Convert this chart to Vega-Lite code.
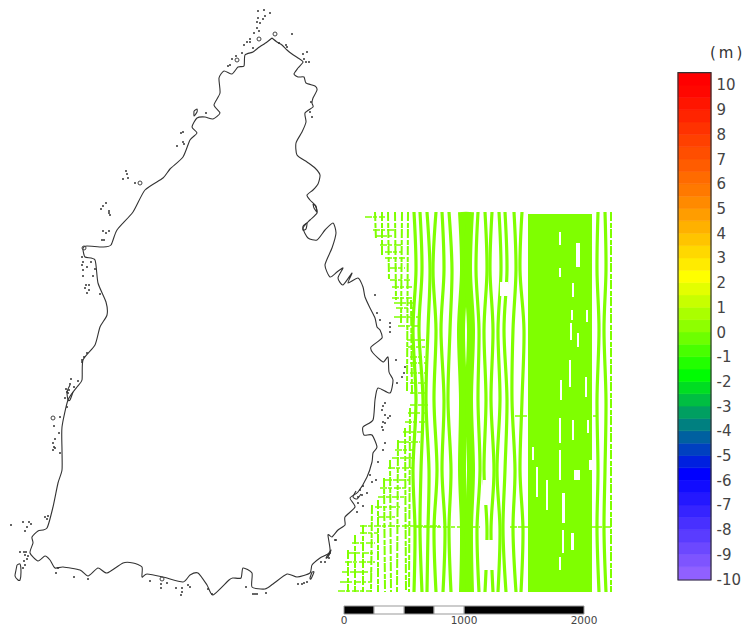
{"$schema":"https://vega.github.io/schema/vega-lite/v6.json","padding":0,"autosize":{"type":"pad"},"spacing":0,"bounds":"flush","background":"white","config":{"view":{"stroke":null},"font":"DejaVu Sans"},
"datasets":{
"coast":[
{"p":"a","i":1,"x":272,"y":38},{"p":"a","i":2,"x":277,"y":42},{"p":"a","i":3,"x":282,"y":45},{"p":"a","i":4,"x":287,"y":50},{"p":"a","i":5,"x":292,"y":54},{"p":"a","i":6,"x":298,"y":58},{"p":"a","i":7,"x":303,"y":62},{"p":"a","i":8,"x":298,"y":68},{"p":"a","i":9,"x":294,"y":74},{"p":"a","i":10,"x":298,"y":77},{"p":"a","i":11,"x":304,"y":77},{"p":"a","i":12,"x":306,"y":83},{"p":"a","i":13,"x":315,"y":86},{"p":"a","i":14,"x":317,"y":90},{"p":"a","i":15,"x":313,"y":98},{"p":"a","i":16,"x":312,"y":103},{"p":"a","i":17,"x":313,"y":107},{"p":"a","i":18,"x":305,"y":113},{"p":"a","i":19,"x":306,"y":122},{"p":"a","i":20,"x":302,"y":132},{"p":"a","i":21,"x":296,"y":143},{"p":"a","i":22,"x":297,"y":155},{"p":"a","i":23,"x":307,"y":162},{"p":"a","i":24,"x":315,"y":168},{"p":"a","i":25,"x":320,"y":175},{"p":"a","i":26,"x":318,"y":184},{"p":"a","i":27,"x":313,"y":190},{"p":"a","i":28,"x":307,"y":195},{"p":"a","i":29,"x":310,"y":200},{"p":"a","i":30,"x":315,"y":205},{"p":"a","i":31,"x":317,"y":213},{"p":"a","i":32,"x":310,"y":220},{"p":"a","i":33,"x":303,"y":228},{"p":"a","i":34,"x":308,"y":238},{"p":"a","i":35,"x":317,"y":240},{"p":"a","i":36,"x":325,"y":230},{"p":"a","i":37,"x":333,"y":223},{"p":"a","i":38,"x":336,"y":233},{"p":"a","i":39,"x":332,"y":248},{"p":"a","i":40,"x":325,"y":265},{"p":"a","i":41,"x":330,"y":277},{"p":"a","i":42,"x":337,"y":272},{"p":"a","i":43,"x":343,"y":268},{"p":"a","i":44,"x":338,"y":278},{"p":"a","i":45,"x":343,"y":285},{"p":"a","i":46,"x":352,"y":273},{"p":"a","i":47,"x":348,"y":283},{"p":"a","i":48,"x":358,"y":278},{"p":"a","i":49,"x":363,"y":287},{"p":"a","i":50,"x":365,"y":297},{"p":"a","i":51,"x":370,"y":308},{"p":"a","i":52,"x":375,"y":318},{"p":"a","i":53,"x":377,"y":327},{"p":"a","i":54,"x":380,"y":330},{"p":"a","i":55,"x":382,"y":338},{"p":"a","i":56,"x":371,"y":347},{"p":"a","i":57,"x":373,"y":353},{"p":"a","i":58,"x":383,"y":362},{"p":"a","i":59,"x":388,"y":357},{"p":"a","i":60,"x":389,"y":372},{"p":"a","i":61,"x":393,"y":380},{"p":"a","i":62,"x":390,"y":393},{"p":"a","i":63,"x":378,"y":388},{"p":"a","i":64,"x":375,"y":400},{"p":"a","i":65,"x":373,"y":420},{"p":"a","i":66,"x":363,"y":427},{"p":"a","i":67,"x":364,"y":435},{"p":"a","i":68,"x":372,"y":435},{"p":"a","i":69,"x":377,"y":447},{"p":"a","i":70,"x":373,"y":453},{"p":"a","i":71,"x":372,"y":462},{"p":"a","i":72,"x":367,"y":477},{"p":"a","i":73,"x":358,"y":492},{"p":"a","i":74,"x":350,"y":498},{"p":"a","i":75,"x":355,"y":507},{"p":"a","i":76,"x":345,"y":517},{"p":"a","i":77,"x":345,"y":525},{"p":"a","i":78,"x":338,"y":530},{"p":"a","i":79,"x":332,"y":537},{"p":"a","i":80,"x":328,"y":535},{"p":"a","i":81,"x":330,"y":552},{"p":"a","i":82,"x":320,"y":558},{"p":"a","i":83,"x":312,"y":565},{"p":"a","i":84,"x":310,"y":573},{"p":"a","i":85,"x":297,"y":577},{"p":"a","i":86,"x":287,"y":574},{"p":"a","i":87,"x":273,"y":584},{"p":"a","i":88,"x":265,"y":589},{"p":"a","i":89,"x":252,"y":587},{"p":"a","i":90,"x":252,"y":573},{"p":"a","i":91,"x":243,"y":568},{"p":"a","i":92,"x":241,"y":578},{"p":"a","i":93,"x":233,"y":578},{"p":"a","i":94,"x":229,"y":580},{"p":"a","i":95,"x":213,"y":595},{"p":"a","i":96,"x":207,"y":585},{"p":"a","i":97,"x":198,"y":573},{"p":"a","i":98,"x":190,"y":575},{"p":"a","i":99,"x":183,"y":582},{"p":"a","i":100,"x":163,"y":577},{"p":"a","i":101,"x":147,"y":574},{"p":"a","i":102,"x":142,"y":577},{"p":"a","i":103,"x":142,"y":567},{"p":"a","i":104,"x":133,"y":563},{"p":"a","i":105,"x":123,"y":563},{"p":"a","i":106,"x":107,"y":573},{"p":"a","i":107,"x":98,"y":568},{"p":"a","i":108,"x":88,"y":576},{"p":"a","i":109,"x":80,"y":570},{"p":"a","i":110,"x":63,"y":567},{"p":"a","i":111,"x":55,"y":568},{"p":"a","i":112,"x":50,"y":560},{"p":"a","i":113,"x":45,"y":556},{"p":"a","i":114,"x":38,"y":561},{"p":"a","i":115,"x":30,"y":553},{"p":"a","i":116,"x":33,"y":543},{"p":"a","i":117,"x":32,"y":537},{"p":"a","i":118,"x":38,"y":531},{"p":"a","i":119,"x":47,"y":528},{"p":"a","i":120,"x":53,"y":507},{"p":"a","i":121,"x":58,"y":483},{"p":"a","i":122,"x":62,"y":470},{"p":"a","i":123,"x":62,"y":450},{"p":"a","i":124,"x":62,"y":427},{"p":"a","i":125,"x":68,"y":400},{"p":"a","i":126,"x":77,"y":387},{"p":"a","i":127,"x":82,"y":380},{"p":"a","i":128,"x":83,"y":360},{"p":"a","i":129,"x":95,"y":345},{"p":"a","i":130,"x":100,"y":327},{"p":"a","i":131,"x":107,"y":315},{"p":"a","i":132,"x":106,"y":302},{"p":"a","i":133,"x":98,"y":283},{"p":"a","i":134,"x":95,"y":260},{"p":"a","i":135,"x":85,"y":257},{"p":"a","i":136,"x":83,"y":248},{"p":"a","i":137,"x":87,"y":246},{"p":"a","i":138,"x":103,"y":247},{"p":"a","i":139,"x":111,"y":245},{"p":"a","i":140,"x":117,"y":230},{"p":"a","i":141,"x":133,"y":212},{"p":"a","i":142,"x":145,"y":190},{"p":"a","i":143,"x":163,"y":178},{"p":"a","i":144,"x":170,"y":169},{"p":"a","i":145,"x":183,"y":157},{"p":"a","i":146,"x":190,"y":140},{"p":"a","i":147,"x":197,"y":133},{"p":"a","i":148,"x":192,"y":127},{"p":"a","i":149,"x":197,"y":118},{"p":"a","i":150,"x":205,"y":117},{"p":"a","i":151,"x":213,"y":119},{"p":"a","i":152,"x":220,"y":113},{"p":"a","i":153,"x":214,"y":105},{"p":"a","i":154,"x":220,"y":93},{"p":"a","i":155,"x":219,"y":78},{"p":"a","i":156,"x":224,"y":71},{"p":"a","i":157,"x":232,"y":74},{"p":"a","i":158,"x":238,"y":67},{"p":"a","i":159,"x":244,"y":66},{"p":"a","i":160,"x":245,"y":55},{"p":"a","i":161,"x":253,"y":52},{"p":"a","i":162,"x":258,"y":48},{"p":"a","i":163,"x":267,"y":42},{"p":"a","i":164,"x":272,"y":38},
{"p":"b","i":1,"x":17,"y":565},{"p":"b","i":2,"x":20,"y":564},{"p":"b","i":3,"x":21,"y":572},{"p":"b","i":4,"x":20,"y":580},{"p":"b","i":5,"x":18,"y":580},{"p":"b","i":6,"x":15,"y":576},{"p":"b","i":7,"x":16,"y":570},{"p":"b","i":8,"x":17,"y":565},
{"p":"c","i":1,"x":312,"y":572},{"p":"c","i":2,"x":314,"y":572},{"p":"c","i":3,"x":311,"y":579},{"p":"c","i":4,"x":310,"y":578},{"p":"c","i":5,"x":312,"y":572},
{"p":"d","i":1,"x":329,"y":553},{"p":"d","i":2,"x":331,"y":550},{"p":"d","i":3,"x":328,"y":557},{"p":"d","i":4,"x":326,"y":558},{"p":"d","i":5,"x":329,"y":553},
{"p":"e","i":1,"x":194,"y":111},{"p":"e","i":2,"x":197,"y":109},{"p":"e","i":3,"x":197,"y":112},{"p":"e","i":4,"x":194,"y":116},{"p":"e","i":5,"x":194,"y":111},
{"p":"f","i":1,"x":70,"y":385},{"p":"f","i":2,"x":67,"y":392},{"p":"f","i":3,"x":68,"y":400},{"p":"f","i":4,"x":70,"y":400},{"p":"f","i":5,"x":73,"y":392},
{"p":"g","i":1,"x":313,"y":204},{"p":"g","i":2,"x":316,"y":206},{"p":"g","i":3,"x":317,"y":212},{"p":"g","i":4,"x":314,"y":208},{"p":"g","i":5,"x":313,"y":204},
{"p":"h","i":1,"x":303,"y":226},{"p":"h","i":2,"x":307,"y":223},{"p":"h","i":3,"x":306,"y":229},{"p":"h","i":4,"x":303,"y":230},{"p":"h","i":5,"x":303,"y":226},
{"p":"j","i":1,"x":356,"y":491},{"p":"j","i":2,"x":353,"y":497},{"p":"j","i":3,"x":357,"y":499},{"p":"j","i":4,"x":361,"y":494}
],
"islets":[{"x":258,"y":11},{"x":264,"y":10},{"x":270,"y":13},{"x":265,"y":16},{"x":258,"y":18},{"x":263,"y":19},{"x":257,"y":22},{"x":260,"y":23},{"x":257,"y":28},{"x":259,"y":31},{"x":254,"y":33},{"x":250,"y":39},{"x":247,"y":42},{"x":244,"y":45},{"x":250,"y":42},{"x":253,"y":48},{"x":242,"y":53},{"x":236,"y":56},{"x":232,"y":59},{"x":230,"y":65},{"x":228,"y":66},{"x":292,"y":34},{"x":279,"y":43},{"x":286,"y":45},{"x":287,"y":47},{"x":303,"y":54},{"x":307,"y":52},{"x":304,"y":59},{"x":306,"y":62},{"x":309,"y":62},{"x":311,"y":102},{"x":310,"y":112},{"x":312,"y":117},{"x":181,"y":133},{"x":183,"y":132},{"x":183,"y":142},{"x":184,"y":144},{"x":177,"y":146},{"x":206,"y":113},{"x":126,"y":171},{"x":127,"y":174},{"x":128,"y":178},{"x":123,"y":179},{"x":135,"y":183},{"x":101,"y":209},{"x":103,"y":206},{"x":106,"y":203},{"x":109,"y":211},{"x":109,"y":213},{"x":110,"y":215},{"x":103,"y":231},{"x":106,"y":233},{"x":109,"y":231},{"x":102,"y":240},{"x":104,"y":240},{"x":82,"y":257},{"x":83,"y":262},{"x":91,"y":262},{"x":82,"y":265},{"x":87,"y":267},{"x":83,"y":270},{"x":95,"y":269},{"x":83,"y":276},{"x":93,"y":276},{"x":86,"y":285},{"x":89,"y":285},{"x":85,"y":288},{"x":89,"y":290},{"x":87,"y":293},{"x":100,"y":294},{"x":87,"y":353},{"x":84,"y":357},{"x":82,"y":360},{"x":82,"y":362},{"x":71,"y":379},{"x":70,"y":384},{"x":78,"y":381},{"x":66,"y":389},{"x":69,"y":390},{"x":74,"y":387},{"x":67,"y":392},{"x":68,"y":393},{"x":65,"y":398},{"x":67,"y":407},{"x":60,"y":417},{"x":54,"y":426},{"x":59,"y":433},{"x":55,"y":439},{"x":53,"y":443},{"x":54,"y":447},{"x":55,"y":448},{"x":53,"y":450},{"x":60,"y":453},{"x":45,"y":517},{"x":48,"y":516},{"x":47,"y":519},{"x":11,"y":525},{"x":23,"y":522},{"x":29,"y":522},{"x":31,"y":524},{"x":27,"y":527},{"x":25,"y":531},{"x":20,"y":552},{"x":24,"y":552},{"x":26,"y":552},{"x":28,"y":556},{"x":25,"y":555},{"x":27,"y":559},{"x":24,"y":561},{"x":25,"y":565},{"x":23,"y":568},{"x":56,"y":573},{"x":58,"y":568},{"x":74,"y":577},{"x":88,"y":579},{"x":150,"y":581},{"x":161,"y":584},{"x":161,"y":588},{"x":167,"y":583},{"x":176,"y":588},{"x":182,"y":588},{"x":182,"y":592},{"x":181,"y":595},{"x":188,"y":585},{"x":190,"y":587},{"x":208,"y":589},{"x":212,"y":594},{"x":246,"y":587},{"x":253,"y":594},{"x":255,"y":594},{"x":257,"y":594},{"x":266,"y":593},{"x":298,"y":584},{"x":302,"y":584},{"x":304,"y":583},{"x":307,"y":582},{"x":321,"y":562},{"x":325,"y":562},{"x":329,"y":558},{"x":336,"y":540},{"x":385,"y":403},{"x":383,"y":406},{"x":382,"y":410},{"x":385,"y":415},{"x":390,"y":416},{"x":388,"y":418},{"x":383,"y":422},{"x":385,"y":423},{"x":382,"y":427},{"x":383,"y":430},{"x":385,"y":443},{"x":383,"y":450},{"x":378,"y":462},{"x":370,"y":475},{"x":372,"y":482},{"x":376,"y":480},{"x":363,"y":486},{"x":360,"y":490},{"x":367,"y":493},{"x":362,"y":495},{"x":358,"y":497},{"x":358,"y":503},{"x":363,"y":506},{"x":357,"y":512},{"x":335,"y":540},{"x":330,"y":553},{"x":375,"y":295},{"x":377,"y":313},{"x":380,"y":320},{"x":390,"y":323},{"x":390,"y":327},{"x":390,"y":332},{"x":396,"y":360},{"x":405,"y":367},{"x":404,"y":373},{"x":402,"y":377},{"x":397,"y":383}],
"rings":[{"x":275,"y":34},{"x":259,"y":39},{"x":237,"y":60},{"x":140,"y":183},{"x":84,"y":248},{"x":53,"y":418},{"x":162,"y":579}],
"main":[
{"t":414,"x":414,"y":212},{"t":414,"x":416,"y":270},{"t":414,"x":413,"y":330},{"t":414,"x":416,"y":400},{"t":414,"x":413,"y":470},{"t":414,"x":415,"y":530},{"t":414,"x":414,"y":592},
{"t":421,"x":420,"y":212},{"t":421,"x":422,"y":270},{"t":421,"x":419,"y":330},{"t":421,"x":423,"y":400},{"t":421,"x":421,"y":470},{"t":421,"x":420,"y":530},{"t":421,"x":422,"y":592},
{"t":428,"x":427,"y":212},{"t":428,"x":430,"y":270},{"t":428,"x":428,"y":330},{"t":428,"x":426,"y":400},{"t":428,"x":429,"y":470},{"t":428,"x":428,"y":530},{"t":428,"x":427,"y":592},
{"t":435,"x":436,"y":212},{"t":435,"x":433,"y":270},{"t":435,"x":436,"y":330},{"t":435,"x":434,"y":400},{"t":435,"x":437,"y":470},{"t":435,"x":434,"y":530},{"t":435,"x":436,"y":592},
{"t":442,"x":442,"y":212},{"t":442,"x":444,"y":270},{"t":442,"x":441,"y":330},{"t":442,"x":444,"y":400},{"t":442,"x":442,"y":470},{"t":442,"x":445,"y":530},{"t":442,"x":443,"y":592},
{"t":450,"x":449,"y":212},{"t":450,"x":452,"y":270},{"t":450,"x":450,"y":330},{"t":450,"x":448,"y":400},{"t":450,"x":451,"y":470},{"t":450,"x":449,"y":530},{"t":450,"x":451,"y":592},
{"t":478,"x":478,"y":212},{"t":478,"x":476,"y":270},{"t":478,"x":479,"y":330},{"t":478,"x":478,"y":400},{"t":478,"x":480,"y":470},{"t":478,"x":477,"y":530},{"t":478,"x":479,"y":592},
{"t":485,"x":485,"y":212},{"t":485,"x":487,"y":270},{"t":485,"x":484,"y":330},{"t":485,"x":486,"y":400},{"t":485,"x":484,"y":470},{"t":485,"x":487,"y":530},{"t":485,"x":485,"y":592},
{"t":492,"x":492,"y":212},{"t":492,"x":490,"y":270},{"t":492,"x":493,"y":330},{"t":492,"x":491,"y":400},{"t":492,"x":494,"y":470},{"t":492,"x":491,"y":530},{"t":492,"x":493,"y":592},
{"t":498,"x":499,"y":212},{"t":498,"x":501,"y":270},{"t":498,"x":498,"y":330},{"t":498,"x":500,"y":400},{"t":498,"x":497,"y":470},{"t":498,"x":500,"y":530},{"t":498,"x":498,"y":592},
{"t":505,"x":505,"y":212},{"t":505,"x":507,"y":270},{"t":505,"x":504,"y":330},{"t":505,"x":507,"y":400},{"t":505,"x":505,"y":470},{"t":505,"x":503,"y":530},{"t":505,"x":506,"y":592},
{"t":515,"x":514,"y":212},{"t":515,"x":516,"y":270},{"t":515,"x":513,"y":330},{"t":515,"x":512,"y":400},{"t":515,"x":515,"y":470},{"t":515,"x":513,"y":530},{"t":515,"x":516,"y":592},
{"t":522,"x":522,"y":212},{"t":522,"x":520,"y":270},{"t":522,"x":524,"y":330},{"t":522,"x":522,"y":400},{"t":522,"x":520,"y":470},{"t":522,"x":523,"y":530},{"t":522,"x":521,"y":592},
{"t":598,"x":598,"y":212},{"t":598,"x":597,"y":270},{"t":598,"x":599,"y":330},{"t":598,"x":597,"y":400},{"t":598,"x":598,"y":470},{"t":598,"x":597,"y":530},{"t":598,"x":599,"y":592},
{"t":605,"x":605,"y":212},{"t":605,"x":606,"y":270},{"t":605,"x":604,"y":330},{"t":605,"x":606,"y":400},{"t":605,"x":605,"y":470},{"t":605,"x":604,"y":530},{"t":605,"x":606,"y":592}
],
"thick":[
{"t":462,"x":462,"y":212},{"t":462,"x":464,"y":270},{"t":462,"x":461,"y":330},{"t":462,"x":463,"y":400},{"t":462,"x":462,"y":470},{"t":462,"x":464,"y":530},{"t":462,"x":463,"y":592},
{"t":470,"x":470,"y":212},{"t":470,"x":468,"y":270},{"t":470,"x":471,"y":330},{"t":470,"x":469,"y":400},{"t":470,"x":471,"y":470},{"t":470,"x":469,"y":530},{"t":470,"x":470,"y":592}
],
"west":[
{"t":"a1","x":348,"y":550},{"t":"a1","x":348,"y":592},{"t":"a2","x":355,"y":535},{"t":"a2","x":355,"y":592},{"t":"a3","x":363,"y":525},{"t":"a3","x":363,"y":592},{"t":"a4","x":372,"y":505},{"t":"a4","x":371,"y":592},{"t":"a5","x":378,"y":500},{"t":"a5","x":378,"y":592},{"t":"a6","x":384,"y":478},{"t":"a6","x":385,"y":592},{"t":"a7","x":390,"y":460},{"t":"a7","x":391,"y":592},{"t":"a8","x":398,"y":440},{"t":"a8","x":397,"y":592},{"t":"a9","x":405,"y":428},{"t":"a9","x":406,"y":592},{"t":"a10","x":410,"y":408},{"t":"a10","x":409,"y":592},
{"t":"b1","x":375,"y":212},{"t":"b1","x":376,"y":240},{"t":"b2","x":382,"y":212},{"t":"b2","x":382,"y":255},{"t":"b3","x":388,"y":212},{"t":"b3","x":389,"y":280},{"t":"b4","x":395,"y":212},{"t":"b4","x":396,"y":300},{"t":"b5","x":402,"y":212},{"t":"b5","x":401,"y":325},{"t":"b6","x":408,"y":212},{"t":"b6","x":407,"y":392},{"t":"b7","x":411,"y":300},{"t":"b7","x":412,"y":395},{"t":"e1","x":611,"y":212},{"t":"e1","x":611,"y":592}
],
"cross":[
{"t":1,"x":365,"y":217},{"t":1,"x":385,"y":217},{"t":2,"x":373,"y":230},{"t":2,"x":395,"y":230},{"t":3,"x":375,"y":236},{"t":3,"x":392,"y":236},{"t":4,"x":380,"y":245},{"t":4,"x":402,"y":245},{"t":5,"x":385,"y":252},{"t":5,"x":402,"y":252},{"t":6,"x":385,"y":258},{"t":6,"x":405,"y":258},{"t":7,"x":390,"y":268},{"t":7,"x":405,"y":268},{"t":8,"x":390,"y":280},{"t":8,"x":410,"y":280},{"t":9,"x":392,"y":287},{"t":9,"x":412,"y":287},{"t":10,"x":392,"y":298},{"t":10,"x":412,"y":298},{"t":11,"x":394,"y":303},{"t":11,"x":415,"y":303},{"t":12,"x":396,"y":308},{"t":12,"x":415,"y":308},{"t":13,"x":394,"y":317},{"t":13,"x":418,"y":317},{"t":14,"x":398,"y":326},{"t":14,"x":418,"y":326},{"t":15,"x":407,"y":340},{"t":15,"x":425,"y":340},{"t":16,"x":408,"y":347},{"t":16,"x":425,"y":347},{"t":17,"x":410,"y":357},{"t":17,"x":425,"y":357},{"t":18,"x":410,"y":363},{"t":18,"x":428,"y":363},{"t":19,"x":410,"y":373},{"t":19,"x":428,"y":373},{"t":20,"x":410,"y":383},{"t":20,"x":425,"y":383},{"t":21,"x":410,"y":393},{"t":21,"x":425,"y":393},{"t":22,"x":410,"y":405},{"t":22,"x":428,"y":405},{"t":23,"x":408,"y":413},{"t":23,"x":425,"y":413},{"t":24,"x":405,"y":422},{"t":24,"x":425,"y":422},{"t":25,"x":403,"y":432},{"t":25,"x":422,"y":432},{"t":26,"x":397,"y":442},{"t":26,"x":420,"y":442},{"t":27,"x":395,"y":450},{"t":27,"x":415,"y":450},{"t":28,"x":392,"y":458},{"t":28,"x":415,"y":458},{"t":29,"x":388,"y":468},{"t":29,"x":412,"y":468},{"t":30,"x":385,"y":480},{"t":30,"x":410,"y":480},{"t":31,"x":380,"y":488},{"t":31,"x":408,"y":488},{"t":32,"x":378,"y":497},{"t":32,"x":405,"y":497},{"t":33,"x":375,"y":507},{"t":33,"x":400,"y":507},{"t":34,"x":378,"y":517},{"t":34,"x":395,"y":517},{"t":35,"x":360,"y":526},{"t":35,"x":440,"y":526},{"t":36,"x":360,"y":533},{"t":36,"x":378,"y":533},{"t":37,"x":352,"y":543},{"t":37,"x":375,"y":543},{"t":38,"x":348,"y":553},{"t":38,"x":373,"y":553},{"t":39,"x":345,"y":562},{"t":39,"x":375,"y":562},{"t":40,"x":342,"y":572},{"t":40,"x":372,"y":572},{"t":41,"x":340,"y":582},{"t":41,"x":372,"y":582},{"t":42,"x":338,"y":591},{"t":42,"x":372,"y":591},{"t":43,"x":415,"y":527},{"t":43,"x":480,"y":527},{"t":44,"x":510,"y":527},{"t":44,"x":530,"y":527},{"t":45,"x":590,"y":527},{"t":45,"x":611,"y":527},{"t":46,"x":515,"y":416},{"t":46,"x":596,"y":416}
],
"block":[{"x":528,"x2":592,"y":214,"y2":592}],
"gaps":[{"x":559,"x2":561,"y":232,"y2":245},{"x":576,"x2":580,"y":243,"y2":267},{"x":559,"x2":561,"y":268,"y2":277},{"x":572,"x2":574,"y":283,"y2":297},{"x":571,"x2":573,"y":310,"y2":320},{"x":586,"x2":588,"y":310,"y2":322},{"x":570,"x2":572,"y":323,"y2":340},{"x":577,"x2":579,"y":333,"y2":347},{"x":560,"x2":562,"y":380,"y2":400},{"x":585,"x2":587,"y":377,"y2":397},{"x":569,"x2":571,"y":360,"y2":387},{"x":559,"x2":561,"y":418,"y2":443},{"x":572,"x2":574,"y":420,"y2":440},{"x":532,"x2":534,"y":447,"y2":460},{"x":559,"x2":561,"y":450,"y2":480},{"x":574,"x2":580,"y":470,"y2":480},{"x":587,"x2":589,"y":420,"y2":433},{"x":589,"x2":592,"y":460,"y2":470},{"x":562,"x2":564,"y":530,"y2":553},{"x":546,"x2":548,"y":480,"y2":510},{"x":562,"x2":565,"y":493,"y2":523},{"x":559,"x2":561,"y":557,"y2":570},{"x":571,"x2":574,"y":533,"y2":550},{"x":536,"x2":538,"y":467,"y2":497},{"x":483,"x2":495,"y":540,"y2":570},{"x":483,"x2":490,"y":480,"y2":505},{"x":500,"x2":508,"y":282,"y2":296}],
"barBlack":[{"x":344,"x2":374,"y":606,"y2":614},{"x":404,"x2":434,"y":606,"y2":614},{"x":464,"x2":584,"y":606,"y2":614}],
"barWhite":[{"x":374,"x2":404,"y":606,"y2":614},{"x":434,"x2":464,"y":606,"y2":614}],
"barLabels":[{"x":344,"y":621,"label":"0"},{"x":464,"y":621,"label":"1000"},{"x":584,"y":621,"label":"2000"}],
"bands":[{"z":-9.75,"lo":-10.04,"hi":-9.5},{"z":-9.25,"lo":-9.5,"hi":-9},{"z":-8.75,"lo":-9,"hi":-8.5},{"z":-8.25,"lo":-8.5,"hi":-8},{"z":-7.75,"lo":-8,"hi":-7.5},{"z":-7.25,"lo":-7.5,"hi":-7},{"z":-6.75,"lo":-7,"hi":-6.5},{"z":-6.25,"lo":-6.5,"hi":-6},{"z":-5.75,"lo":-6,"hi":-5.5},{"z":-5.25,"lo":-5.5,"hi":-5},{"z":-4.75,"lo":-5,"hi":-4.5},{"z":-4.25,"lo":-4.5,"hi":-4},{"z":-3.75,"lo":-4,"hi":-3.5},{"z":-3.25,"lo":-3.5,"hi":-3},{"z":-2.75,"lo":-3,"hi":-2.5},{"z":-2.25,"lo":-2.5,"hi":-2},{"z":-1.75,"lo":-2,"hi":-1.5},{"z":-1.25,"lo":-1.5,"hi":-1},{"z":-0.75,"lo":-1,"hi":-0.5},{"z":-0.25,"lo":-0.5,"hi":0},{"z":0.25,"lo":0,"hi":0.5},{"z":0.75,"lo":0.5,"hi":1},{"z":1.25,"lo":1,"hi":1.5},{"z":1.75,"lo":1.5,"hi":2},{"z":2.25,"lo":2,"hi":2.5},{"z":2.75,"lo":2.5,"hi":3},{"z":3.25,"lo":3,"hi":3.5},{"z":3.75,"lo":3.5,"hi":4},{"z":4.25,"lo":4,"hi":4.5},{"z":4.75,"lo":4.5,"hi":5},{"z":5.25,"lo":5,"hi":5.5},{"z":5.75,"lo":5.5,"hi":6},{"z":6.25,"lo":6,"hi":6.5},{"z":6.75,"lo":6.5,"hi":7},{"z":7.25,"lo":7,"hi":7.5},{"z":7.75,"lo":7.5,"hi":8},{"z":8.25,"lo":8,"hi":8.5},{"z":8.75,"lo":8.5,"hi":9},{"z":9.25,"lo":9,"hi":9.5},{"z":9.75,"lo":9.5,"hi":10},{"z":10.25,"lo":10,"hi":10.5}]
},
"hconcat":[
{"width":660,"height":629,
"encoding":{"x":{"field":"x","type":"quantitative","axis":null,"scale":{"domain":[0,660],"nice":false,"zero":false}},"y":{"field":"y","type":"quantitative","axis":null,"scale":{"domain":[629,0],"nice":false,"zero":false}}},
"layer":[
{"data":{"name":"west"},"mark":{"type":"line","color":"#7fff00","strokeWidth":2,"strokeDash":[9,2,5,1]},"encoding":{"detail":{"field":"t"},"order":{"field":"y","type":"quantitative"}}},
{"data":{"name":"cross"},"mark":{"type":"line","color":"#7fff00","strokeWidth":1.6,"strokeDash":[7,1,4,2]},"encoding":{"detail":{"field":"t"},"order":{"field":"x","type":"quantitative"}}},
{"data":{"name":"main"},"mark":{"type":"line","color":"#7fff00","strokeWidth":3.2,"interpolate":"cardinal"},"encoding":{"detail":{"field":"t"},"order":{"field":"y","type":"quantitative"}}},
{"data":{"name":"thick"},"mark":{"type":"line","color":"#7fff00","strokeWidth":8,"interpolate":"cardinal"},"encoding":{"detail":{"field":"t"},"order":{"field":"y","type":"quantitative"}}},
{"data":{"name":"block"},"mark":{"type":"rect","color":"#7fff00"},"encoding":{"x2":{"field":"x2"},"y2":{"field":"y2"}}},
{"data":{"name":"gaps"},"mark":{"type":"rect","color":"#ffffff"},"encoding":{"x2":{"field":"x2"},"y2":{"field":"y2"}}},
{"data":{"name":"coast"},"mark":{"type":"line","color":"#333333","strokeWidth":1.1,"interpolate":"cardinal","tension":0.35},"encoding":{"detail":{"field":"p"},"order":{"field":"i","type":"quantitative"}}},
{"data":{"name":"islets"},"mark":{"type":"point","shape":"circle","filled":true,"color":"#333333","size":4,"opacity":1}},
{"data":{"name":"rings"},"mark":{"type":"point","shape":"circle","filled":false,"color":"#444444","size":16,"strokeWidth":1,"opacity":1}},
{"data":{"name":"barBlack"},"mark":{"type":"rect","color":"#000000","stroke":"#999999","strokeWidth":1},"encoding":{"x2":{"field":"x2"},"y2":{"field":"y2"}}},
{"data":{"name":"barWhite"},"mark":{"type":"rect","color":"#ffffff","stroke":"#999999","strokeWidth":1},"encoding":{"x2":{"field":"x2"},"y2":{"field":"y2"}}},
{"data":{"name":"barLabels"},"mark":{"type":"text","fontSize":10.5,"color":"#444444","align":"center","baseline":"middle","font":"DejaVu Sans"},"encoding":{"text":{"field":"label"}}}
]},
{"width":51,"height":629,
"encoding":{"y":{"field":"lo","type":"quantitative","scale":{"domain":[-12.024,13.441],"nice":false,"zero":false},"axis":{"orient":"right","values":[-10,-9,-8,-7,-6,-5,-4,-3,-2,-1,0,1,2,3,4,5,6,7,8,9,10],"title":null,"domain":false,"ticks":false,"grid":false,"labelFontSize":15,"labelColor":"#444444","labelPadding":5,"labelFont":"DejaVu Sans","labelExpr":"'' + datum.value","labelAlign":"left","labelBaseline":"middle"}}},
"layer":[
{"data":{"name":"bands"},"mark":{"type":"rect","strokeWidth":0.6},"encoding":{"x":{"value":18},"x2":{"value":51},"y2":{"field":"hi"},"color":{"field":"z","type":"quantitative","legend":null,"scale":{"domain":[-10,-5.75,-3.75,-1.7,0,2.25,5.5,10],"range":["#9966ff","#0000ff","#008080","#00ff00","#80ff00","#ffff00","#ff8000","#ff0000"],"interpolate":"rgb"}},"stroke":{"field":"z","type":"quantitative","legend":null,"scale":{"domain":[-10,-5.75,-3.75,-1.7,0,2.25,5.5,10],"range":["#9966ff","#0000ff","#008080","#00ff00","#80ff00","#ffff00","#ff8000","#ff0000"],"interpolate":"rgb"}}}},
{"data":{"values":[{"lo":-10.04,"hi":10.5}]},"mark":{"type":"rect","fillOpacity":0,"fill":"white","stroke":"#333333","strokeWidth":1.2},"encoding":{"x":{"value":18},"x2":{"value":51},"y2":{"field":"hi"}}},
{"data":{"values":[{"lo":11.3,"label":"(\u2009m\u2009)"}]},"mark":{"type":"text","align":"left","baseline":"middle","fontSize":15,"color":"#333333","font":"DejaVu Sans"},"encoding":{"x":{"value":50},"text":{"field":"label"}}}
]}
]}
